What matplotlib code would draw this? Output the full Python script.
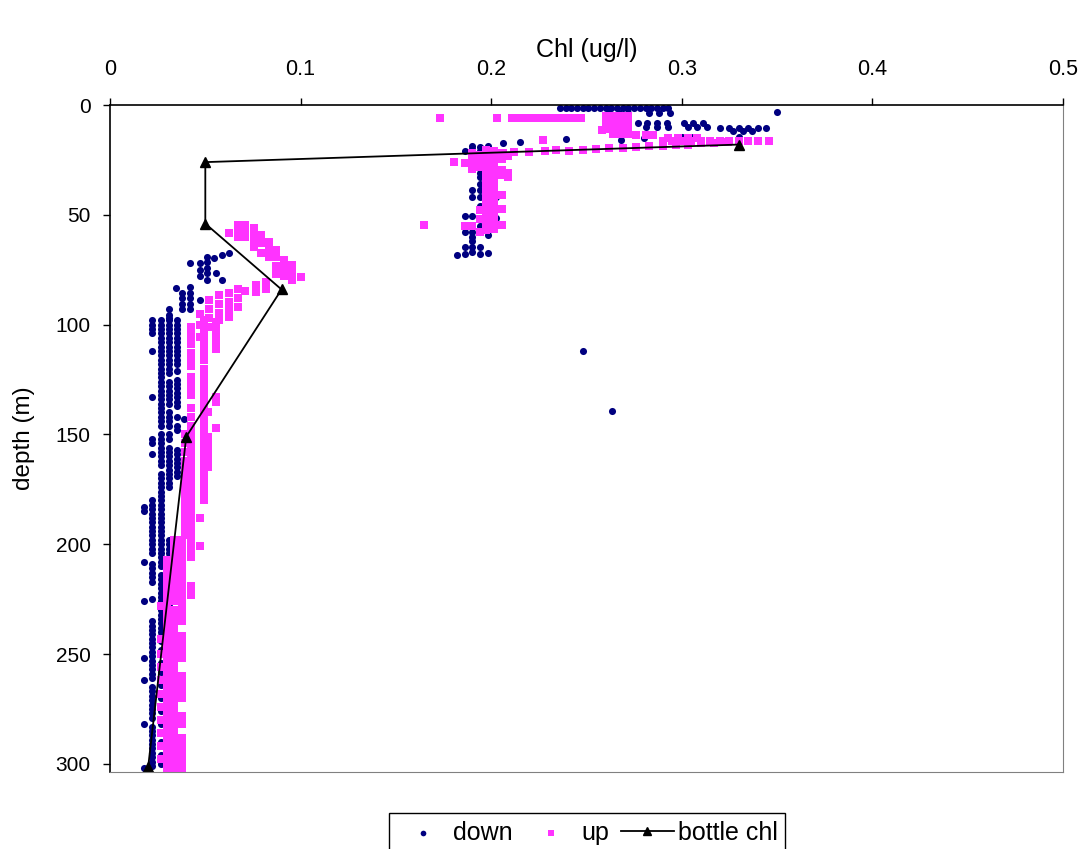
import numpy as np
import matplotlib
matplotlib.use('Agg')
import matplotlib.pyplot as plt

plt.rcParams['font.family'] = ['Liberation Sans', 'DejaVu Sans']

# ---- down cast (blue) ----
# surface layer / top of the column: (chl, depth) pairs
down_top_chl = [0.236, 0.239, 0.242, 0.245, 0.248, 0.251, 0.254, 0.257, 0.260, 0.263,
                0.266, 0.269, 0.272, 0.275, 0.278, 0.281, 0.284, 0.287, 0.290, 0.293,
                0.262, 0.267, 0.272, 0.283, 0.288, 0.294, 0.350,
                0.262, 0.268,
                0.277, 0.282, 0.287, 0.292, 0.301, 0.306, 0.311,
                0.281, 0.287, 0.293, 0.303, 0.308, 0.313, 0.320, 0.325, 0.330, 0.335, 0.340, 0.344,
                0.327, 0.332, 0.337,
                0.300, 0.305, 0.330,
                0.239, 0.268, 0.280, 0.206, 0.215]
down_top_depth = [1.5, 1.5, 1.5, 1.5, 1.5, 1.5, 1.5, 1.5, 1.5, 1.5,
                  1.5, 1.5, 1.5, 1.5, 1.5, 1.5, 1.5, 1.5, 1.5, 1.5,
                  3.5, 3.5, 3.5, 3.5, 3.5, 3.5, 3,
                  6, 6,
                  8, 8, 8, 8, 8, 8, 8,
                  10, 10, 10, 10, 10, 10, 10.5, 10.5, 10.5, 10.5, 10.5, 10.5,
                  12, 12, 12,
                  14.5, 14.5, 14.5,
                  15.5, 16, 15, 17.3, 16.8]

# blue column near 0.19 between 17 and 68 m
down_col_chl = [0.186, 0.186, 0.186, 0.186, 0.186, 0.182,
                0.190, 0.190, 0.190, 0.190, 0.190, 0.190, 0.190, 0.190, 0.190, 0.190, 0.190, 0.190,
                0.194, 0.194, 0.194, 0.194, 0.194, 0.194, 0.194, 0.194, 0.194, 0.194, 0.194, 0.194,
                0.194, 0.194, 0.194,
                0.1985, 0.1985, 0.1985, 0.2025, 0.2025]
down_col_depth = [21, 50.5, 58, 64.5, 68, 68.5,
                  18.5, 20, 22, 38.7, 42, 50.5, 55, 58, 60, 62, 64.5, 67,
                  19, 21, 23, 31, 33, 38.7, 42, 46, 55, 58, 64.5, 68,
                  26, 28, 36,
                  18.5, 59, 67.5, 42, 51.5]

# nose of the deep maximum, 67 - 106 m
down_mid_chl = [0.0625, 0.059, 0.0546, 0.051, 0.051, 0.051, 0.051, 0.047, 0.047, 0.047,
                0.042, 0.0555, 0.059, 0.051,
                0.0345, 0.042, 0.042, 0.042, 0.042, 0.042, 0.038, 0.038, 0.038, 0.038, 0.047,
                0.031, 0.031, 0.031]
down_mid_depth = [67.6, 68.3, 69.8, 69, 71.5, 74, 76.6, 72, 75, 78,
                  71.8, 76.7, 79.7, 79.7,
                  83.4, 83, 85.5, 88, 90.5, 93, 85.7, 88, 90.5, 93, 88.8,
                  93, 95.5, 97]

# deep part: depths where each chl level shows a blue dot
down_d018 = [183, 185, 208, 226, 252, 262, 282, 302]
down_d022 = [98, 100, 102, 104, 112, 133, 152, 154, 159, 180, 182, 184, 186, 188, 190, 192,
             194, 196, 198, 200, 202, 204, 209, 211, 213, 215, 217, 225, 235, 237, 239, 241,
             243, 245, 247, 249, 251, 253, 255, 257, 259, 261, 265, 267, 269, 271, 273, 275,
             277, 279, 283, 285, 287, 289, 291, 293, 295, 297, 299, 301]
down_d027 = [98, 100, 102, 104, 106, 108, 110, 112, 114, 116, 118, 120, 122, 124, 126, 128,
             130, 132, 134, 136, 138, 140, 142, 144, 146, 150, 152, 154, 156, 158, 160, 162,
             164, 168, 170, 172, 174, 176, 178, 180, 182, 184, 186, 188, 190, 192, 194, 196,
             198, 200, 202, 204, 206, 208, 210, 214, 216, 218, 220, 222, 224, 226, 228, 230,
             232, 234, 236, 238, 240, 242, 244, 248, 254, 258, 264, 270, 276, 282, 286, 290,
             296, 300]
down_d031 = [98, 100, 102, 104, 106, 108, 110, 112, 114, 116, 118, 120, 122, 126, 128, 130,
             132, 134, 136, 140, 142, 144, 146, 150, 152, 156, 158, 160, 162, 164, 166, 168,
             170, 172, 174, 198, 200, 202, 204, 206, 215, 217, 219, 221, 223, 225, 227, 229,
             231, 233, 235]
down_d035 = [98, 100, 102, 104, 106, 108, 110, 112, 114, 116, 118, 121, 125, 127, 129, 131,
             133, 135, 137, 142, 146, 148, 157, 159, 161, 163, 165, 167, 169]
down_d039 = [143]
# two stray points
down_odd_chl = [0.248, 0.2635]
down_odd_depth = [112, 139.5]

# ---- up cast (pink) ----
up_top_chl = [0.173, 0.203, 0.211, 0.215, 0.219, 0.223, 0.227, 0.231, 0.235, 0.239, 0.243, 0.247,
              0.260, 0.264, 0.268, 0.272, 0.260, 0.264, 0.268, 0.272, 0.260, 0.264, 0.268, 0.272,
              0.260, 0.264, 0.268, 0.272, 0.264, 0.268, 0.272, 0.258,
              0.276, 0.281, 0.285, 0.293, 0.298, 0.303, 0.308, 0.227,
              0.290, 0.295, 0.300, 0.305, 0.310, 0.315, 0.320, 0.325, 0.330, 0.335, 0.340, 0.346,
              0.206, 0.212, 0.220, 0.228, 0.234, 0.241, 0.248, 0.255, 0.262, 0.269, 0.276, 0.283,
              0.290, 0.297, 0.303, 0.310, 0.317, 0.324]
up_top_depth = [6, 6, 6, 6, 6, 6, 6, 6, 6, 6, 6, 6,
                5, 5, 5, 5, 7, 7, 7, 7, 9, 9, 9, 9,
                11, 11, 11, 11, 13, 13, 13, 11.4,
                13.5, 13.5, 13.5, 14.8, 14.8, 14.8, 14.8, 16,
                16.3, 16.3, 16.3, 16.3, 16.3, 16.3, 16.3, 16.3, 16.3, 16.3, 16.3, 16.3,
                22, 21.5, 21.5, 21, 20.5, 21, 20.5, 20, 19.5, 19.5, 19, 18.5,
                18.5, 18, 18, 17.5, 17.5, 17]

up_col_chl = [0.1806, 0.186, 0.190, 0.190, 0.190, 0.1942, 0.1942, 0.1942,
              0.1975, 0.1975, 0.1975, 0.1975, 0.1975, 0.1975, 0.1975, 0.1975, 0.1975, 0.1975,
              0.1975, 0.1975, 0.1975, 0.1975, 0.1975, 0.1975, 0.1975, 0.1975, 0.1975,
              0.2017, 0.2017, 0.2017, 0.2017, 0.2017, 0.2017, 0.2017, 0.2017, 0.2017, 0.2017,
              0.2017, 0.2017, 0.2017, 0.2017, 0.2017, 0.2017, 0.2017, 0.2017,
              0.2055, 0.2055, 0.2055, 0.2055, 0.2055, 0.2055, 0.2055, 0.209, 0.209, 0.209,
              0.186, 0.190, 0.165, 0.1942, 0.1942, 0.1942]
up_col_depth = [25.8, 26.5, 22, 25.5, 29, 22.8, 25.5, 28,
                20.5, 22.5, 24.5, 26.5, 28.5, 30.5, 32.5, 34.5, 36.5, 38.5,
                40.5, 42.5, 44.5, 46.5, 48.5, 50.5, 52.5, 54.5, 57,
                21, 23, 25, 27, 29, 31, 33, 35, 37, 39,
                41, 43, 45, 47, 49, 51, 53, 56.6,
                22, 24.5, 29.5, 32, 41, 47.5, 54.5, 23, 31, 33,
                55, 55, 54.6, 48, 52, 58]

up_mid_chl = [0.0625, 0.067, 0.067, 0.067, 0.071, 0.071, 0.071, 0.0756, 0.0756, 0.0756, 0.0756,
              0.079, 0.079, 0.079, 0.0835, 0.0835, 0.0835, 0.087, 0.087, 0.087, 0.087,
              0.0913, 0.0913, 0.0913, 0.0957, 0.0957, 0.0957, 0.100,
              0.0817, 0.0817, 0.0765, 0.0765, 0.071,
              0.067, 0.067, 0.067, 0.0625, 0.0625, 0.0625, 0.0625, 0.057, 0.057, 0.057, 0.057,
              0.052, 0.052, 0.052, 0.052, 0.047, 0.047, 0.047, 0.0424, 0.0424]
up_mid_depth = [58.5, 54.7, 57.3, 60, 54.7, 57.3, 60, 56, 58.8, 61.6, 64.5,
                59, 63, 67.5, 62.5, 66, 69, 66, 69, 73.5, 77,
                70.6, 74.3, 78, 73, 76.5, 79.7, 78.2,
                80.5, 84, 82, 85, 84.5,
                84, 88, 92, 85.7, 89.5, 93, 96.6, 86.5, 90.5, 94.5, 98,
                89, 93, 97, 101, 95, 100, 105.6, 101, 106]

# deep part of the up cast, depths per chl level
up_d027 = [228, 243, 250, 256, 262, 268, 274, 280, 286, 292, 298]
up_d030 = [207, 209, 211, 213, 215, 217, 219, 221, 223, 225, 227, 229, 231, 233, 235, 237,
           239, 241, 243, 245, 247, 249, 251, 253, 255, 257, 259, 261, 263, 265, 267, 269,
           271, 273, 275, 277, 279, 281, 283, 285, 287, 289, 291, 293, 295, 297, 299, 301, 303]
up_d034 = [198, 200, 202, 204, 206, 208, 210, 212, 214, 216, 218, 220, 222, 224, 226, 230,
           232, 234, 236, 238, 240, 242, 244, 246, 248, 252, 254, 256, 258, 260, 262, 264,
           266, 268, 272, 274, 276, 278, 280, 282, 284, 286, 288, 290, 292, 294, 296, 298,
           300, 302]
up_d038 = [198, 200, 202, 204, 206, 209, 211, 213, 215, 217, 219, 221, 223, 225, 227, 229,
           231, 233, 235, 242, 244, 246, 248, 250, 252, 260, 262, 264, 266, 268, 270, 278,
           280, 282, 288, 290, 292, 294, 296, 298, 300, 302]
up_d039 = [150, 154, 158, 162, 164, 166, 168, 170, 172, 174, 176, 178, 180, 182, 184, 186,
           188, 190, 192, 194, 196]
up_d042 = [101, 103, 105, 107, 109, 113, 115, 117, 119, 124, 126, 128, 130, 132, 138, 142,
           146, 148, 150, 152, 154, 156, 158, 160, 162, 164, 166, 168, 170, 172, 174, 176,
           178, 180, 182, 184, 186, 188, 190, 192, 194, 196, 198, 200, 202, 204, 206, 219,
           221, 223]
up_d047 = [188, 201]
up_d049 = [98, 100, 102, 104, 106, 108, 110, 112, 114, 116, 120, 122, 124, 126, 128, 130,
           132, 134, 136, 138, 140, 142, 144, 146, 148, 150, 152, 154, 156, 160, 162, 164,
           166, 168, 170, 172, 174, 176, 178, 180]
up_d051 = [140, 151, 153, 155, 158, 160, 162, 165]
up_d056 = [99, 101, 103, 105, 107, 109, 111, 133, 135, 147]

# ---- bottle samples ----
bottle_chl = [0.33, 0.05, 0.05, 0.09, 0.04, 0.02]
bottle_depth = [18, 26, 54, 84, 151, 301.5]


def stack(pairs):
    xs, ys = [], []
    for c, d in pairs:
        xs += [c] * len(d)
        ys += list(d)
    return xs, ys


dx, dy = stack([(0.018, down_d018), (0.022, down_d022), (0.0266, down_d027),
                (0.031, down_d031), (0.0353, down_d035), (0.0388, down_d039)])
down_chl = down_top_chl + down_col_chl + down_mid_chl + dx + down_odd_chl
down_depth = down_top_depth + down_col_depth + down_mid_depth + dy + down_odd_depth

ux, uy = stack([(0.0266, up_d027), (0.030, up_d030), (0.0336, up_d034), (0.038, up_d038),
                (0.0395, up_d039), (0.0423, up_d042), (0.0470, up_d047), (0.0493, up_d049),
                (0.0515, up_d051), (0.0554, up_d056)])
up_chl = up_top_chl + up_col_chl + up_mid_chl + ux
up_depth = up_top_depth + up_col_depth + up_mid_depth + uy

navy = '#000080'
pink = '#FF33FF'

fig = plt.figure(figsize=(10.85, 8.49), dpi=100)
ax = fig.add_axes([0.1014, 0.0907, 0.8783, 0.7856])

ax.scatter(down_chl, down_depth, s=26, marker='o', color=navy, linewidths=0, label='down')
ax.scatter(up_chl, up_depth, s=27, marker='s', color=pink, linewidths=0, label='up')
ax.plot(bottle_chl, bottle_depth, '-^', color='black', lw=1.3, ms=7.5, label='bottle chl')

ax.set_xlim(0, 0.5)
ax.set_ylim(303.7, 0)
ax.set_xticks([0, 0.1, 0.2, 0.3, 0.4, 0.5])
ax.set_xticklabels(['0', '0.1', '0.2', '0.3', '0.4', '0.5'])
ax.set_yticks([0, 50, 100, 150, 200, 250, 300])

ax.xaxis.tick_top()
ax.xaxis.set_label_position('top')
ax.tick_params(axis='x', direction='out', length=5, width=1, labelsize=15.5, pad=13)
ax.tick_params(axis='y', direction='out', length=5, width=1, labelsize=15, pad=9)

for s in ['top', 'left']:
    ax.spines[s].set_color('black')
    ax.spines[s].set_linewidth(1.2)
for s in ['right', 'bottom']:
    ax.spines[s].set_color('#808080')
    ax.spines[s].set_linewidth(0.8)

ax.set_xlabel('Chl (ug/l)', fontsize=18, labelpad=1.5)
ax.set_ylabel('depth (m)', fontsize=17.5, labelpad=15)

leg = ax.legend(loc='upper center', bbox_to_anchor=(0.541, 0.0424),
                bbox_transform=fig.transFigure, ncol=3, fontsize=18,
                frameon=True, fancybox=False, edgecolor='black', framealpha=1,
                handlelength=2.1, handletextpad=0.16, columnspacing=0.48,
                borderpad=0.3, borderaxespad=0, markerscale=0.8)
leg.get_frame().set_linewidth(1.0)

fig.savefig('out.png', dpi=100)
